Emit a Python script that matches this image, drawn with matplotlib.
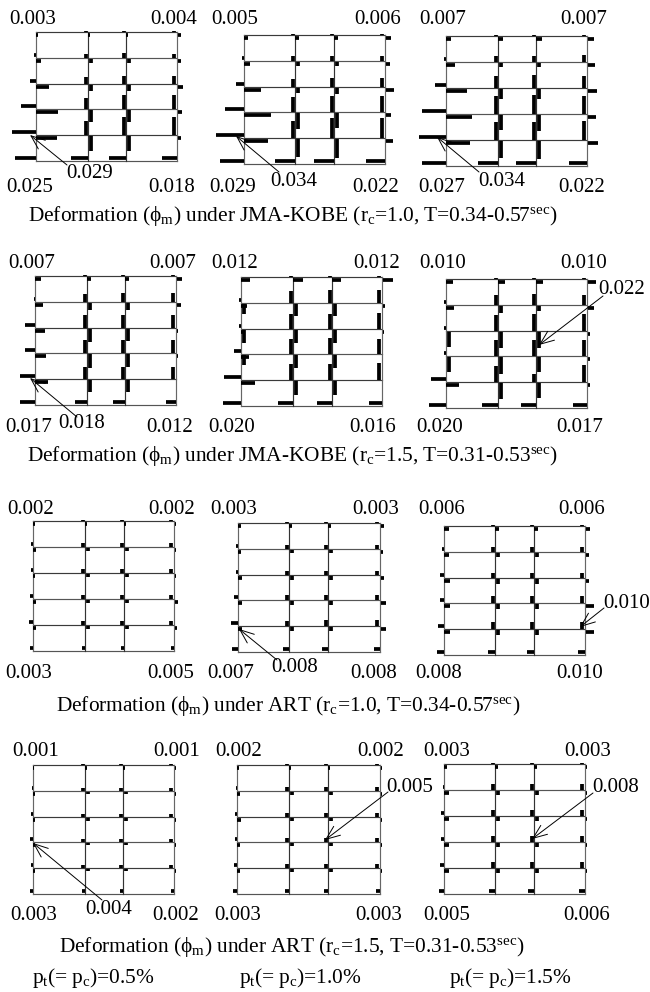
import matplotlib
matplotlib.use('Agg')
import matplotlib.pyplot as plt

plt.rcParams['font.family'] = ['Liberation Serif', 'DejaVu Serif']
plt.rcParams['mathtext.fontset'] = 'custom'
plt.rcParams['mathtext.rm'] = 'Liberation Serif'
plt.rcParams['mathtext.it'] = 'Liberation Serif'
plt.rcParams['mathtext.bf'] = 'Liberation Serif'

# Hinge bar lengths, one row per frame (left to right, top to bottom).
# Each row runs from the lowest floor upward.
ext_left = [
    [21, 24, 15, 6, 2], [24, 28, 19, 8, 2], [24, 27, 24, 11, 2],
    [15, 15, 10, 10, 1], [18, 17, 7, 2, 2], [17, 15, 2, 2, 2],
    [3, 4, 3, 2, 2], [6, 7, 4, 2, 2], [7, 6, 4, 4, 2],
    [3, 2, 3, 2, 1], [4, 3, 2, 2, 1], [5, 4, 3, 3, 1],
]
ext_top = [
    [21, 22, 13, 5, 2], [24, 27, 17, 6, 4], [24, 26, 21, 9, 5],
    [13, 11, 10, 8, 6], [14, 8, 4, 6, 9], [13, 0, 0, 8, 7],
    [3, 3, 2, 3, 2], [4, 4, 4, 3, 3], [6, 6, 6, 5, 5],
    [2, 2, 2, 2, 1], [3, 3, 4, 3, 2], [5, 5, 5, 5, 3],
]
down_c1 = [
    [0, 0, 0, 0, 0], [0, 0, 0, 0, 0], [0, 0, 0, 0, 0],
    [0, 0, 0, 0, 0], [0, 10, 13, 10, 0], [0, 15, 15, 0, 0],
    [0, 0, 0, 0, 0], [0, 0, 0, 0, 0], [0, 0, 0, 0, 0],
    [0, 0, 0, 0, 0], [0, 0, 0, 0, 0], [0, 0, 0, 0, 0],
]
base_c2 = [17, 20, 20, 12, 15, 16, 3, 6, 7, 3, 4, 6]
base_c3 = [17, 20, 20, 12, 15, 15, 3, 6, 7, 3, 4, 6]
base_c4 = [15, 19, 18, 10, 13, 14, 3, 6, 7, 3, 4, 6]
up_c2 = [
    [14, 11, 7, 4, 1], [17, 15, 8, 5, 1], [18, 18, 12, 6, 1],
    [12, 13, 13, 8, 1], [16, 15, 15, 12, 1], [16, 16, 16, 10, 1],
    [4, 4, 4, 4, 1], [5, 5, 4, 4, 1], [7, 7, 5, 5, 1],
    [3, 3, 3, 3, 1], [4, 4, 4, 4, 1], [6, 6, 6, 6, 1],
]
up_c3 = [
    [18, 14, 8, 5, 1], [20, 16, 9, 5, 1], [18, 19, 13, 6, 1],
    [12, 13, 13, 9, 1], [16, 16, 15, 13, 1], [8, 16, 17, 11, 1],
    [4, 4, 4, 4, 1], [6, 5, 4, 4, 1], [7, 7, 5, 5, 1],
    [3, 3, 3, 3, 1], [4, 4, 4, 4, 1], [6, 6, 6, 6, 1],
]
up_c4 = [
    [18, 14, 8, 4, 1], [20, 16, 9, 5, 1], [19, 18, 12, 7, 1],
    [12, 13, 13, 9, 1], [17, 15, 16, 13, 1], [17, 16, 17, 10, 1],
    [4, 4, 4, 4, 1], [6, 5, 4, 4, 1], [7, 7, 5, 5, 1],
    [3, 3, 3, 3, 1], [4, 4, 4, 4, 1], [6, 6, 6, 6, 1],
]
down_c2 = [
    [15, 12, 6, 4, 2], [18, 16, 5, 4, 4], [17, 15, 10, 4, 5],
    [12, 14, 13, 7, 4], [14, 13, 13, 12, 10], [16, 17, 16, 7, 7],
    [3, 3, 3, 3, 2], [4, 4, 4, 3, 3], [5, 5, 5, 4, 4],
    [2, 2, 3, 2, 2], [3, 3, 3, 3, 2], [4, 4, 4, 4, 3],
]
down_c3 = [
    [15, 12, 6, 4, 2], [19, 15, 6, 4, 4], [18, 16, 10, 4, 6],
    [12, 13, 12, 7, 4], [14, 13, 13, 12, 9], [15, 15, 16, 5, 7],
    [3, 3, 3, 3, 2], [4, 4, 4, 3, 3], [5, 5, 5, 4, 4],
    [2, 2, 3, 2, 2], [3, 3, 3, 3, 2], [4, 4, 4, 4, 3],
]
ext_right = [
    [3, 4, 5, 3, 3], [7, 5, 8, 4, 5], [10, 8, 9, 7, 6],
    [0, 1, 1, 4, 5], [0, 0, 1, 2, 10], [2, 2, 2, 6, 8],
    [2, 3, 1, 1, 1], [5, 5, 3, 2, 3], [8, 8, 3, 3, 4],
    [1, 1, 1, 1, 1], [1, 1, 1, 1, 1], [1, 1, 1, 1, 1],
]

top_left = ['0.003', '0.005', '0.007', '0.007', '0.012', '0.010',
            '0.002', '0.003', '0.006', '0.001', '0.002', '0.003']
top_right = ['0.004', '0.006', '0.007', '0.007', '0.012', '0.010',
             '0.002', '0.003', '0.006', '0.001', '0.002', '0.003']
bottom_left = ['0.025', '0.029', '0.027', '0.017', '0.020', '0.020',
               '0.003', '0.007', '0.008', '0.003', '0.003', '0.005']
bottom_right = ['0.018', '0.022', '0.022', '0.012', '0.016', '0.017',
                '0.005', '0.008', '0.010', '0.002', '0.003', '0.006']
peak_labels = ['0.029', '0.034', '0.034', '0.018', '', '0.022',
               '', '0.008', '0.010', '0.004', '0.005', '0.008']
titles = [
    r'Deformation ($\phi_{m}$) under JMA-KOBE ($r_{c}$=1.0, T=0.34-0.57$^{sec}$)',
    r'Deformation ($\phi_{m}$) under JMA-KOBE ($r_{c}$=1.5, T=0.31-0.53$^{sec}$)',
    r'Deformation ($\phi_{m}$) under ART ($r_{c}$=1.0, T=0.34-0.57$^{sec}$)',
    r'Deformation ($\phi_{m}$) under ART ($r_{c}$=1.5, T=0.31-0.53$^{sec}$)',
]
ratio_labels = [r'$p_{t}$(= $p_{c}$)=0.5%', r'$p_{t}$(= $p_{c}$)=1.0%', r'$p_{t}$(= $p_{c}$)=1.5%']

# Layout in pixels
column_x = [
    [36, 88, 126, 177], [244, 295, 334, 385], [446, 498, 536, 587],
    [35, 87, 125, 176], [241, 293, 332, 382], [446, 498, 536, 587],
    [33, 85, 124, 174], [238, 289, 328, 380], [444, 495, 534, 585],
    [33, 85, 123, 174], [237, 289, 328, 380], [444, 495, 534, 585],
]
frame_y = [(32, 161), (35, 164), (36, 166), (276, 405), (277, 406), (279, 408),
           (521, 651), (523, 652), (526, 655), (765, 894), (765, 894), (764, 894)]
top_text_x = [(33, 174), (235, 378), (443, 584), (32, 173), (235, 377), (443, 584),
              (31, 172), (234, 376), (442, 582), (36, 177), (239, 381), (447, 588)]
bottom_text_x = [(30, 172), (233, 376), (442, 582), (29, 170), (232, 373), (440, 580),
                 (29, 171), (231, 374), (439, 580), (34, 176), (238, 379), (447, 587)]
row_text_y = [(20, 187), (263, 427), (510, 673), (752, 915)]
title_pos = [(293, 216), (292, 456), (288, 706), (292, 947)]
ratio_x = [93, 300, 510]
peak_text = [(90, 173), (294, 181), (502, 181), (82, 423), None, (622, 290),
             None, (295, 668), (627, 603), (109, 910), (410, 787), (616, 787)]
arrow_tip = [(30, 135), (236, 136), (437, 137), (30, 378), None, (539, 345),
             None, (239, 629), (580, 627), (33, 843), (325, 840), (532, 839)]
arrow_tail = [(67, 165), (279, 172), (479, 172), (77, 417), None, (603, 296),
              None, (277, 660), (604, 608), (102, 900), (388, 792), (593, 793)]

fig = plt.figure(figsize=(6.5, 9.92), dpi=100)
ax = fig.add_axes([0, 0, 1, 1])
ax.set_xlim(0, 650)
ax.set_ylim(992, 0)
ax.axis('off')


def bar(x0, y0, x1, y1):
    if x0 == x1 and y0 == y1:
        return
    ax.plot([x0, x1], [y0, y1], color='black', lw=2.7, solid_capstyle='butt', zorder=3)


for i in range(12):
    cols = column_x[i]
    y_top, y_bot = frame_y[i]
    floors = [y_bot + (y_top - y_bot) * k / 5 for k in range(6)]

    # frame lines
    for k, y in enumerate(floors):
        ax.plot([cols[0], cols[3]], [y, y], color='#3a3a3a' if k % 2 else '#555555', lw=0.85, zorder=2)
    for j, x in enumerate(cols):
        ax.plot([x, x], [y_top, y_bot], color='#666666' if j % 3 == 0 else '#333333', lw=0.85, zorder=2)

    # hinges at the ground floor
    bar(cols[1] - base_c2[i], y_bot - 3, cols[1], y_bot - 3)
    bar(cols[2] - base_c3[i], y_bot - 3, cols[2], y_bot - 3)
    bar(cols[3] - base_c4[i], y_bot - 3, cols[3], y_bot - 3)

    for k in range(5):
        low = floors[k]
        up = floors[k + 1]
        bar(cols[0] - ext_left[i][k], low - 3, cols[0], low - 3)
        bar(cols[0], up + 3, cols[0] + ext_top[i][k], up + 3)
        bar(cols[0] + 3, up + 1, cols[0] + 3, up + 1 + down_c1[i][k])
        bar(cols[1] - 2, up - up_c2[i][k], cols[1] - 2, up)
        bar(cols[2] - 2, up - up_c3[i][k], cols[2] - 2, up)
        bar(cols[3] - 3, up - up_c4[i][k], cols[3] - 3, up)
        bar(cols[3] + 1, up + 3, cols[3] + 1 + ext_right[i][k], up + 3)
        if k == 4:
            # roof hinges lie flat
            bar(cols[1], up + 3, cols[1] + down_c2[i][k], up + 3)
            bar(cols[2], up + 3, cols[2] + down_c3[i][k], up + 3)
        else:
            bar(cols[1] + 3, up + 1, cols[1] + 3, up + 1 + down_c2[i][k])
            bar(cols[2] + 3, up + 1, cols[2] + 3, up + 1 + down_c3[i][k])

    # values at the frame corners
    ty, by = row_text_y[i // 3]
    ax.text(top_text_x[i][0], ty, top_left[i], fontsize=15, ha='center', va='center')
    ax.text(top_text_x[i][1], ty, top_right[i], fontsize=15, ha='center', va='center')
    ax.text(bottom_text_x[i][0], by, bottom_left[i], fontsize=15, ha='center', va='center')
    ax.text(bottom_text_x[i][1], by, bottom_right[i], fontsize=15, ha='center', va='center')

    # peak value and its arrow
    if peak_labels[i]:
        ax.text(peak_text[i][0], peak_text[i][1], peak_labels[i], fontsize=15, ha='center', va='center', zorder=5)
        ax.annotate('', xy=arrow_tip[i], xytext=arrow_tail[i],
                    arrowprops=dict(arrowstyle='->,head_length=1.0,head_width=0.4', lw=0.7, color='black',
                                    shrinkA=0, shrinkB=0, mutation_scale=10), zorder=4)

for text, pos in zip(titles, title_pos):
    ax.text(pos[0], pos[1], text, fontsize=15.4, ha='center', va='center')
for text, x in zip(ratio_labels, ratio_x):
    ax.text(x, 978, text, fontsize=15.4, ha='center', va='center')

fig.savefig('out.png', dpi=100)
